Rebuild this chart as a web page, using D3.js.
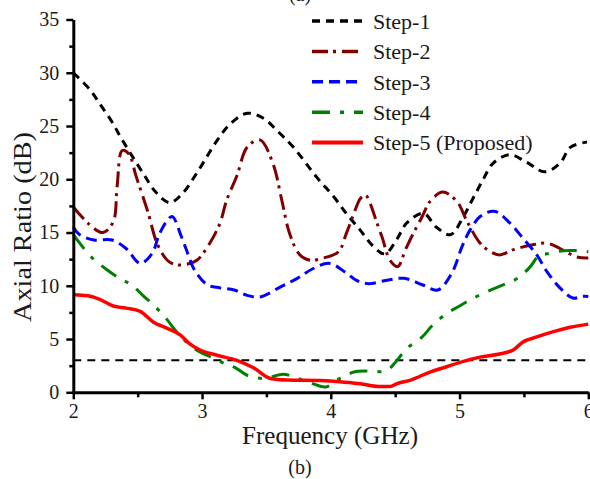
<!DOCTYPE html>
<html>
<head>
<meta charset="utf-8">
<script src="https://cdn.jsdelivr.net/npm/d3@7"></script>
<style>
  html, body { margin: 0; padding: 0; background: #fff; }
  svg { display: block; }
</style>
</head>
<body>
<svg id="chart" width="590" height="479"></svg>
<script>
// Axial ratio vs frequency for the five design steps
const step1Freq = [2.0, 2.13, 2.21, 2.30, 2.38, 2.54, 2.64, 2.75, 2.85, 2.96, 3.12, 3.22, 3.35, 3.48, 3.58, 3.71, 3.89, 4.02, 4.12, 4.23, 4.33, 4.42, 4.51, 4.59, 4.72, 4.82, 4.93, 5.03, 5.10, 5.18, 5.26, 5.39, 5.52, 5.66, 5.78, 5.86, 5.99];
const step1AR   = [30.0, 28.4, 27.0, 25.4, 23.7, 20.6, 18.8, 17.8, 18.7, 20.6, 23.7, 25.2, 26.2, 25.7, 24.6, 23.0, 20.2, 18.4, 16.8, 15.2, 13.7, 13.0, 14.3, 15.9, 16.8, 15.5, 14.8, 16.5, 18.1, 19.9, 21.5, 22.3, 21.6, 20.7, 21.5, 23.0, 23.5];

const step2Freq = [2.0, 2.13, 2.23, 2.31, 2.34, 2.38, 2.43, 2.49, 2.58, 2.65, 2.73, 2.79, 2.87, 2.96, 3.06, 3.14, 3.19, 3.27, 3.35, 3.45, 3.55, 3.62, 3.68, 3.76, 3.84, 3.94, 4.06, 4.12, 4.18, 4.23, 4.27, 4.31, 4.35, 4.40, 4.46, 4.52, 4.58, 4.64, 4.71, 4.77, 4.87, 4.98, 5.06, 5.16, 5.24, 5.31, 5.42, 5.55, 5.68, 5.78, 5.91, 6.0];
const step2AR   = [17.4, 15.7, 15.0, 16.0, 19.3, 22.7, 22.4, 20.2, 16.9, 14.0, 12.4, 12.0, 12.0, 12.4, 14.0, 15.9, 18.0, 20.3, 23.0, 23.7, 21.5, 18.0, 14.9, 12.9, 12.4, 12.6, 13.2, 14.9, 16.8, 18.2, 18.5, 17.6, 16.2, 14.5, 12.4, 11.8, 13.4, 14.9, 16.5, 17.9, 18.8, 17.9, 16.0, 14.0, 13.2, 12.9, 13.4, 13.8, 14.0, 13.5, 12.7, 12.6];

const step3Freq = [2.0, 2.05, 2.16, 2.30, 2.41, 2.52, 2.61, 2.67, 2.74, 2.77, 2.84, 2.89, 2.94, 3.04, 3.14, 3.25, 3.35, 3.45, 3.61, 3.74, 3.86, 3.99, 4.12, 4.20, 4.29, 4.43, 4.57, 4.71, 4.83, 4.94, 5.02, 5.08, 5.16, 5.27, 5.39, 5.49, 5.60, 5.68, 5.78, 5.88, 5.95, 6.0];
const step3AR   = [15.5, 14.8, 14.3, 14.3, 13.5, 12.1, 13.0, 14.9, 16.3, 16.5, 14.6, 13.0, 11.5, 10.1, 9.8, 9.6, 9.1, 8.95, 9.9, 10.7, 11.6, 12.1, 11.2, 10.5, 10.2, 10.5, 10.7, 10.1, 9.6, 11.2, 13.7, 15.2, 16.5, 17.0, 15.9, 14.5, 12.9, 11.3, 9.8, 8.85, 9.0, 9.0];

const step4Freq = [2.0, 2.05, 2.14, 2.25, 2.36, 2.45, 2.54, 2.64, 2.73, 2.80, 2.88, 2.98, 3.09, 3.19, 3.26, 3.35, 3.48, 3.63, 3.71, 3.84, 3.96, 4.07, 4.18, 4.29, 4.43, 4.50, 4.59, 4.71, 4.79, 4.90, 5.0, 5.10, 5.24, 5.36, 5.45, 5.55, 5.62, 5.68, 5.81, 5.91, 6.0];
const step4AR   = [14.8, 14.0, 12.7, 11.6, 10.7, 10.1, 9.1, 8.0, 6.8, 5.7, 4.7, 3.8, 3.2, 2.6, 2.3, 1.6, 1.3, 1.7, 1.45, 0.9, 0.5, 1.3, 1.9, 2.0, 2.0, 2.8, 4.1, 5.2, 6.3, 7.4, 8.1, 8.8, 9.6, 10.2, 10.7, 11.8, 12.9, 13.0, 13.3, 13.3, 13.2];

const step5Freq = [2.0, 2.14, 2.21, 2.31, 2.41, 2.52, 2.62, 2.73, 2.83, 2.90, 2.98, 3.11, 3.27, 3.40, 3.53, 3.66, 3.92, 4.07, 4.23, 4.38, 4.46, 4.51, 4.62, 4.77, 4.90, 5.03, 5.16, 5.31, 5.42, 5.49, 5.60, 5.73, 5.86, 6.0];
const step5AR   = [9.15, 9.0, 8.7, 8.1, 7.9, 7.6, 6.6, 6.0, 5.4, 4.6, 4.0, 3.5, 3.0, 2.3, 1.3, 1.15, 1.1, 1.0, 0.8, 0.55, 0.55, 0.8, 1.15, 1.9, 2.4, 2.9, 3.3, 3.6, 4.0, 4.7, 5.2, 5.7, 6.1, 6.4];

const seriesNames = ["Step-1", "Step-2", "Step-3", "Step-4", "Step-5 (Proposed)"];
const thresholdAR = 3;

const xTicks = [2, 3, 4, 5, 6];
const yTicks = [0, 5, 10, 15, 20, 25, 30, 35];

const FONT = "'Liberation Serif', Tinos, 'Times New Roman', 'DejaVu Serif', serif";
const INK = "#1a1a1a";

const svg = d3.select("#chart");

const x = d3.scaleLinear().domain([2, 6]).range([73.3, 588.3]);
const y = d3.scaleLinear().domain([0, 35]).range([392.3, 19.5]);

const styles = [
  { color: "#000000", dash: "8,6", width: 3, curve: d3.curveCatmullRom.alpha(0.5) },
  { color: "#800000", dash: "16,5,3,6", width: 3, curve: d3.curveCatmullRom.alpha(0.5) },
  { color: "#0000ff", dash: "11,6", width: 3, curve: d3.curveCatmullRom.alpha(0.5) },
  { color: "#008000", dash: "18,10,4,10", width: 3, curve: d3.curveCatmullRom.alpha(0.5) },
  { color: "#ff0000", dash: null, width: 3.5, curve: d3.curveMonotoneX }
];

const series = [
  d3.zip(step1Freq, step1AR),
  d3.zip(step2Freq, step2AR),
  d3.zip(step3Freq, step3AR),
  d3.zip(step4Freq, step4AR),
  d3.zip(step5Freq, step5AR)
];

// 3 dB axial-ratio threshold
svg.append("line")
  .attr("x1", x(2)).attr("x2", x(6))
  .attr("y1", y(thresholdAR)).attr("y2", y(thresholdAR))
  .attr("stroke", "#000").attr("stroke-width", 2)
  .attr("stroke-dasharray", "8,6");

// curves
series.forEach((pts, i) => {
  const s = styles[i];
  const line = d3.line().x(d => x(d[0])).y(d => y(d[1])).curve(s.curve);
  svg.append("path")
    .attr("d", line(pts))
    .attr("fill", "none")
    .attr("stroke", s.color)
    .attr("stroke-width", s.width)
    .attr("stroke-dasharray", s.dash)
    .attr("stroke-linejoin", "round");
});

// axes
const xAxis = d3.axisBottom(x).tickValues(d3.range(2, 6.01, 0.5)).tickSize(6).tickSizeOuter(0)
  .tickFormat(d => xTicks.includes(d) ? d3.format("d")(d) : "");
const gx = svg.append("g").attr("transform", `translate(0,${y(0)})`).call(xAxis)
  .attr("font-family", FONT);
gx.select(".domain").attr("stroke", "#000").attr("stroke-width", 3);
gx.selectAll(".tick line").attr("stroke", "#000").attr("stroke-width", 2.5)
  .attr("y2", d => xTicks.includes(d) ? 7 : 5);
gx.selectAll(".tick text").attr("font-size", 20).attr("y", 12).attr("dy", "0.71em")
  .attr("font-family", FONT).attr("fill", INK);

const yAxis = d3.axisLeft(y).tickValues(d3.range(0, 35.01, 2.5)).tickSize(7).tickSizeOuter(0)
  .tickFormat(d => yTicks.includes(d) ? d3.format("d")(d) : "");
const gy = svg.append("g").attr("transform", `translate(${x(2)},0)`).call(yAxis)
  .attr("font-family", FONT);
gy.select(".domain").attr("stroke", "#000").attr("stroke-width", 3);
gy.selectAll(".tick line").attr("stroke", "#000").attr("stroke-width", 2.5)
  .attr("x2", d => yTicks.includes(d) ? -7 : -4);
gy.selectAll(".tick text").attr("font-size", 20).attr("x", -14)
  .attr("font-family", FONT).attr("fill", INK);

// axis titles and captions
function label(xp, yp, str, size) {
  return svg.append("text")
    .attr("x", xp).attr("y", yp)
    .attr("text-anchor", "middle")
    .attr("font-family", FONT)
    .attr("font-size", size)
    .attr("fill", INK)
    .text(str);
}

label(0, 0, "Axial Ratio (dB)", 26)
  .attr("transform", "translate(31,227) rotate(-90)")
  .attr("textLength", 190).attr("lengthAdjust", "spacingAndGlyphs");

label(330, 444, "Frequency (GHz)", 26)
  .attr("textLength", 176).attr("lengthAdjust", "spacingAndGlyphs");

label(300, 474, "(b)", 20);
label(300, 1, "(a)", 20);

// legend
const legend = svg.append("g").attr("transform", "translate(312,21)");
seriesNames.forEach((name, i) => {
  const s = styles[i];
  const row = legend.append("g").attr("transform", `translate(0,${i * 30.4})`);
  row.append("line")
    .attr("x1", 0).attr("x2", 51).attr("y1", 0).attr("y2", 0)
    .attr("stroke", s.color).attr("stroke-width", s.width + 0.5)
    .attr("stroke-dasharray", s.dash);
  row.append("text")
    .attr("x", 61).attr("y", 0).attr("dy", "0.35em")
    .attr("font-family", FONT)
    .attr("font-size", 22)
    .attr("fill", INK)
    .text(name);
});
</script>
</body>
</html>
